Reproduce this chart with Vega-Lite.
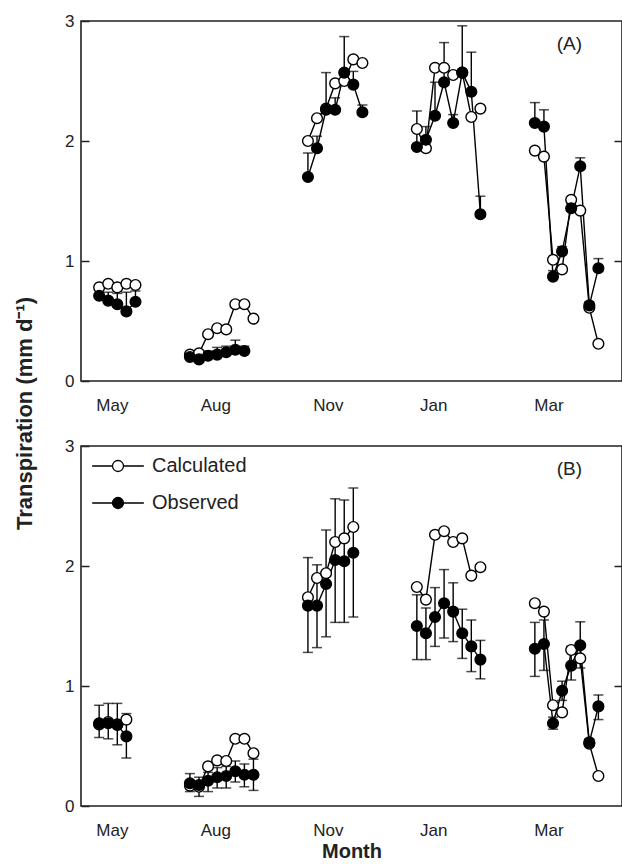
{
  "$schema": "https://vega.github.io/schema/vega-lite/v6.json",
  "padding": {"left": 12, "top": 11, "right": 0, "bottom": 0},
  "background": "white",
  "config": {
    "view": {"stroke": "#222", "strokeWidth": 1.6},
    "font": "Liberation Sans",
    "axis": {"labelFont": "Liberation Sans", "labelColor": "#222", "tickColor": "#222", "titleColor": "#222", "grid": false, "domain": false}
  },
  "datasets": {
    "a": [
      {"month": "May", "x": 2, "series": "Calculated", "value": 0.78},
      {"month": "May", "x": 3, "series": "Calculated", "value": 0.81},
      {"month": "May", "x": 4, "series": "Calculated", "value": 0.78},
      {"month": "May", "x": 5, "series": "Calculated", "value": 0.81},
      {"month": "May", "x": 6, "series": "Calculated", "value": 0.80},
      {"month": "May", "x": 2, "series": "Observed", "value": 0.71, "hi": 0.76},
      {"month": "May", "x": 3, "series": "Observed", "value": 0.67, "hi": 0.74},
      {"month": "May", "x": 4, "series": "Observed", "value": 0.64, "hi": 0.73},
      {"month": "May", "x": 5, "series": "Observed", "value": 0.58, "hi": 0.74},
      {"month": "May", "x": 6, "series": "Observed", "value": 0.66, "hi": 0.75},
      {"month": "Aug", "x": 12, "series": "Calculated", "value": 0.22},
      {"month": "Aug", "x": 13, "series": "Calculated", "value": 0.23},
      {"month": "Aug", "x": 14, "series": "Calculated", "value": 0.39},
      {"month": "Aug", "x": 15, "series": "Calculated", "value": 0.44},
      {"month": "Aug", "x": 16, "series": "Calculated", "value": 0.43},
      {"month": "Aug", "x": 17, "series": "Calculated", "value": 0.64},
      {"month": "Aug", "x": 18, "series": "Calculated", "value": 0.64},
      {"month": "Aug", "x": 19, "series": "Calculated", "value": 0.52},
      {"month": "Aug", "x": 12, "series": "Observed", "value": 0.20, "hi": 0.24},
      {"month": "Aug", "x": 13, "series": "Observed", "value": 0.18, "hi": 0.22},
      {"month": "Aug", "x": 14, "series": "Observed", "value": 0.21, "hi": 0.25},
      {"month": "Aug", "x": 15, "series": "Observed", "value": 0.22, "hi": 0.28},
      {"month": "Aug", "x": 16, "series": "Observed", "value": 0.24, "hi": 0.29},
      {"month": "Aug", "x": 17, "series": "Observed", "value": 0.26, "hi": 0.34},
      {"month": "Aug", "x": 18, "series": "Observed", "value": 0.25, "hi": 0.29},
      {"month": "Nov", "x": 25, "series": "Calculated", "value": 2.00},
      {"month": "Nov", "x": 26, "series": "Calculated", "value": 2.19},
      {"month": "Nov", "x": 27, "series": "Calculated", "value": 2.27},
      {"month": "Nov", "x": 28, "series": "Calculated", "value": 2.48},
      {"month": "Nov", "x": 29, "series": "Calculated", "value": 2.50},
      {"month": "Nov", "x": 30, "series": "Calculated", "value": 2.68},
      {"month": "Nov", "x": 31, "series": "Calculated", "value": 2.65},
      {"month": "Nov", "x": 25, "series": "Observed", "value": 1.70, "hi": 1.90},
      {"month": "Nov", "x": 26, "series": "Observed", "value": 1.94, "hi": 2.04},
      {"month": "Nov", "x": 27, "series": "Observed", "value": 2.26, "hi": 2.57},
      {"month": "Nov", "x": 28, "series": "Observed", "value": 2.26, "hi": 2.36},
      {"month": "Nov", "x": 29, "series": "Observed", "value": 2.57, "hi": 2.87},
      {"month": "Nov", "x": 30, "series": "Observed", "value": 2.47, "hi": 2.58},
      {"month": "Nov", "x": 31, "series": "Observed", "value": 2.24, "hi": 2.30},
      {"month": "Jan", "x": 37, "series": "Calculated", "value": 2.10},
      {"month": "Jan", "x": 38, "series": "Calculated", "value": 1.94},
      {"month": "Jan", "x": 39, "series": "Calculated", "value": 2.61},
      {"month": "Jan", "x": 40, "series": "Calculated", "value": 2.61},
      {"month": "Jan", "x": 41, "series": "Calculated", "value": 2.55},
      {"month": "Jan", "x": 42, "series": "Calculated", "value": 2.57},
      {"month": "Jan", "x": 43, "series": "Calculated", "value": 2.20},
      {"month": "Jan", "x": 44, "series": "Calculated", "value": 2.27},
      {"month": "Jan", "x": 37, "series": "Observed", "value": 1.95, "hi": 2.25},
      {"month": "Jan", "x": 38, "series": "Observed", "value": 2.01, "hi": 2.12},
      {"month": "Jan", "x": 39, "series": "Observed", "value": 2.21, "hi": 2.49},
      {"month": "Jan", "x": 40, "series": "Observed", "value": 2.49, "hi": 2.82},
      {"month": "Jan", "x": 41, "series": "Observed", "value": 2.15, "hi": 2.22},
      {"month": "Jan", "x": 42, "series": "Observed", "value": 2.57, "hi": 2.96},
      {"month": "Jan", "x": 43, "series": "Observed", "value": 2.41, "hi": 2.74},
      {"month": "Jan", "x": 44, "series": "Observed", "value": 1.39, "hi": 1.54},
      {"month": "Mar", "x": 50, "series": "Calculated", "value": 1.92},
      {"month": "Mar", "x": 51, "series": "Calculated", "value": 1.87},
      {"month": "Mar", "x": 52, "series": "Calculated", "value": 1.01},
      {"month": "Mar", "x": 53, "series": "Calculated", "value": 0.93},
      {"month": "Mar", "x": 54, "series": "Calculated", "value": 1.51},
      {"month": "Mar", "x": 55, "series": "Calculated", "value": 1.42},
      {"month": "Mar", "x": 56, "series": "Calculated", "value": 0.61},
      {"month": "Mar", "x": 57, "series": "Calculated", "value": 0.31},
      {"month": "Mar", "x": 50, "series": "Observed", "value": 2.15, "hi": 2.32},
      {"month": "Mar", "x": 51, "series": "Observed", "value": 2.12, "hi": 2.26},
      {"month": "Mar", "x": 52, "series": "Observed", "value": 0.87, "hi": 0.92},
      {"month": "Mar", "x": 53, "series": "Observed", "value": 1.08, "hi": 1.12},
      {"month": "Mar", "x": 54, "series": "Observed", "value": 1.44, "hi": 1.48},
      {"month": "Mar", "x": 55, "series": "Observed", "value": 1.79, "hi": 1.86},
      {"month": "Mar", "x": 56, "series": "Observed", "value": 0.63, "hi": 0.66},
      {"month": "Mar", "x": 57, "series": "Observed", "value": 0.94, "hi": 1.02}
    ],
    "b": [
      {"month": "May", "x": 2, "series": "Calculated", "value": 0.68},
      {"month": "May", "x": 3, "series": "Calculated", "value": 0.70},
      {"month": "May", "x": 4, "series": "Calculated", "value": 0.68},
      {"month": "May", "x": 5, "series": "Calculated", "value": 0.72},
      {"month": "May", "x": 2, "series": "Observed", "value": 0.69, "lo": 0.57, "hi": 0.84},
      {"month": "May", "x": 3, "series": "Observed", "value": 0.69, "lo": 0.56, "hi": 0.855},
      {"month": "May", "x": 4, "series": "Observed", "value": 0.675, "lo": 0.51, "hi": 0.855},
      {"month": "May", "x": 5, "series": "Observed", "value": 0.58, "lo": 0.40, "hi": 0.77},
      {"month": "Aug", "x": 12, "series": "Calculated", "value": 0.17},
      {"month": "Aug", "x": 13, "series": "Calculated", "value": 0.16},
      {"month": "Aug", "x": 14, "series": "Calculated", "value": 0.33},
      {"month": "Aug", "x": 15, "series": "Calculated", "value": 0.38},
      {"month": "Aug", "x": 16, "series": "Calculated", "value": 0.375},
      {"month": "Aug", "x": 17, "series": "Calculated", "value": 0.56},
      {"month": "Aug", "x": 18, "series": "Calculated", "value": 0.56},
      {"month": "Aug", "x": 19, "series": "Calculated", "value": 0.44},
      {"month": "Aug", "x": 12, "series": "Observed", "value": 0.19, "lo": 0.12, "hi": 0.27},
      {"month": "Aug", "x": 13, "series": "Observed", "value": 0.175, "lo": 0.08, "hi": 0.24},
      {"month": "Aug", "x": 14, "series": "Observed", "value": 0.21, "lo": 0.12, "hi": 0.28},
      {"month": "Aug", "x": 15, "series": "Observed", "value": 0.24, "lo": 0.15, "hi": 0.32},
      {"month": "Aug", "x": 16, "series": "Observed", "value": 0.25, "lo": 0.15, "hi": 0.33},
      {"month": "Aug", "x": 17, "series": "Observed", "value": 0.29, "lo": 0.20, "hi": 0.375},
      {"month": "Aug", "x": 18, "series": "Observed", "value": 0.26, "lo": 0.16, "hi": 0.35},
      {"month": "Aug", "x": 19, "series": "Observed", "value": 0.26, "lo": 0.13, "hi": 0.39},
      {"month": "Nov", "x": 25, "series": "Calculated", "value": 1.74},
      {"month": "Nov", "x": 26, "series": "Calculated", "value": 1.90},
      {"month": "Nov", "x": 27, "series": "Calculated", "value": 1.94},
      {"month": "Nov", "x": 28, "series": "Calculated", "value": 2.20},
      {"month": "Nov", "x": 29, "series": "Calculated", "value": 2.23},
      {"month": "Nov", "x": 30, "series": "Calculated", "value": 2.325},
      {"month": "Nov", "x": 25, "series": "Observed", "value": 1.67, "lo": 1.28, "hi": 2.07},
      {"month": "Nov", "x": 26, "series": "Observed", "value": 1.67, "lo": 1.32, "hi": 2.01},
      {"month": "Nov", "x": 27, "series": "Observed", "value": 1.85, "lo": 1.41, "hi": 2.30},
      {"month": "Nov", "x": 28, "series": "Observed", "value": 2.05, "lo": 1.53, "hi": 2.56},
      {"month": "Nov", "x": 29, "series": "Observed", "value": 2.04, "lo": 1.53, "hi": 2.55},
      {"month": "Nov", "x": 30, "series": "Observed", "value": 2.11, "lo": 1.575, "hi": 2.65},
      {"month": "Jan", "x": 37, "series": "Calculated", "value": 1.825},
      {"month": "Jan", "x": 38, "series": "Calculated", "value": 1.72},
      {"month": "Jan", "x": 39, "series": "Calculated", "value": 2.26},
      {"month": "Jan", "x": 40, "series": "Calculated", "value": 2.29},
      {"month": "Jan", "x": 41, "series": "Calculated", "value": 2.20},
      {"month": "Jan", "x": 42, "series": "Calculated", "value": 2.23},
      {"month": "Jan", "x": 43, "series": "Calculated", "value": 1.92},
      {"month": "Jan", "x": 44, "series": "Calculated", "value": 1.99},
      {"month": "Jan", "x": 37, "series": "Observed", "value": 1.50, "lo": 1.22, "hi": 1.76},
      {"month": "Jan", "x": 38, "series": "Observed", "value": 1.44, "lo": 1.22, "hi": 1.65},
      {"month": "Jan", "x": 39, "series": "Observed", "value": 1.575, "lo": 1.33, "hi": 1.82},
      {"month": "Jan", "x": 40, "series": "Observed", "value": 1.69, "lo": 1.40, "hi": 1.97},
      {"month": "Jan", "x": 41, "series": "Observed", "value": 1.62, "lo": 1.37, "hi": 1.86},
      {"month": "Jan", "x": 42, "series": "Observed", "value": 1.44, "lo": 1.23, "hi": 1.64},
      {"month": "Jan", "x": 43, "series": "Observed", "value": 1.33, "lo": 1.12, "hi": 1.55},
      {"month": "Jan", "x": 44, "series": "Observed", "value": 1.22, "lo": 1.06, "hi": 1.38},
      {"month": "Mar", "x": 50, "series": "Calculated", "value": 1.69},
      {"month": "Mar", "x": 51, "series": "Calculated", "value": 1.62},
      {"month": "Mar", "x": 52, "series": "Calculated", "value": 0.84},
      {"month": "Mar", "x": 53, "series": "Calculated", "value": 0.78},
      {"month": "Mar", "x": 54, "series": "Calculated", "value": 1.30},
      {"month": "Mar", "x": 55, "series": "Calculated", "value": 1.23},
      {"month": "Mar", "x": 56, "series": "Calculated", "value": 0.52},
      {"month": "Mar", "x": 57, "series": "Calculated", "value": 0.25},
      {"month": "Mar", "x": 50, "series": "Observed", "value": 1.31, "lo": 1.08, "hi": 1.53},
      {"month": "Mar", "x": 51, "series": "Observed", "value": 1.35, "lo": 1.13, "hi": 1.55},
      {"month": "Mar", "x": 52, "series": "Observed", "value": 0.69, "lo": 0.64, "hi": 0.74},
      {"month": "Mar", "x": 53, "series": "Observed", "value": 0.96, "lo": 0.88, "hi": 1.04},
      {"month": "Mar", "x": 54, "series": "Observed", "value": 1.17, "lo": 1.05, "hi": 1.33},
      {"month": "Mar", "x": 55, "series": "Observed", "value": 1.34, "lo": 1.15, "hi": 1.535},
      {"month": "Mar", "x": 56, "series": "Observed", "value": 0.53, "lo": 0.50, "hi": 0.56},
      {"month": "Mar", "x": 57, "series": "Observed", "value": 0.83, "lo": 0.72, "hi": 0.925}
    ]
  },
  "vconcat": [
    {
      "width": 541,
      "height": 360,
      "data": {"name": "a"},
      "title": {"text": "(A)", "orient": "top", "anchor": "end", "frame": "group", "offset": -51, "dx": -40, "fontSize": 19, "fontWeight": "normal", "font": "Liberation Sans", "color": "#222", "baseline": "middle"},
      "resolve": {"axis": {"y": "independent"}},
      "layer": [
        {
          "mark": {"type": "line", "color": "black", "strokeWidth": 1.4},
          "encoding": {
            "x": {"field": "x", "type": "quantitative", "scale": {"domain": [0, 59.6], "nice": false, "zero": false},
                  "axis": {"values": [3.4, 14.8, 27.2, 38.8, 51.5], "labelExpr": "datum.value < 8 ? 'May' : datum.value < 20 ? 'Aug' : datum.value < 32 ? 'Nov' : datum.value < 45 ? 'Jan' : 'Mar'", "ticks": false, "labelPadding": 16, "labelFontSize": 17, "title": null, "labelFlush": false}},
            "y": {"field": "value", "type": "quantitative", "scale": {"domain": [0, 3], "nice": false},
                  "axis": {"orient": "left", "values": [0, 1, 2, 3], "tickSize": -8, "tickWidth": 1.5, "labelPadding": 15, "labelFontSize": 17, "labelFlush": false, "labelOverlap": false,
                           "title": "Transpiration (mm d⁻¹)", "titleFont": "Liberation Sans", "titleFontSize": 22, "titleFontWeight": "bold", "titleX": -57, "titleY": 392, "titleAngle": -90, "titleAlign": "center", "titleBaseline": "middle"}},
            "detail": [{"field": "series"}, {"field": "month"}]
          }
        },
        {
          "transform": [{"filter": "datum.hi != null"}],
          "mark": {"type": "rule", "color": "black", "strokeWidth": 1.4},
          "encoding": {
            "x": {"field": "x", "type": "quantitative"},
            "y": {"field": "value", "type": "quantitative", "axis": null},
            "y2": {"field": "hi"}
          }
        },
        {
          "transform": [{"filter": "datum.hi != null"}],
          "mark": {"type": "tick", "orient": "horizontal", "color": "black", "size": 10, "thickness": 1.5},
          "encoding": {
            "x": {"field": "x", "type": "quantitative"},
            "y": {"field": "hi", "type": "quantitative", "axis": null}
          }
        },
        {
          "transform": [{"filter": "datum.series == 'Calculated'"}],
          "mark": {"type": "circle", "size": 115, "stroke": "black", "strokeWidth": 1.4, "opacity": 1},
          "encoding": {
            "x": {"field": "x", "type": "quantitative"},
            "y": {"field": "value", "type": "quantitative", "axis": {"orient": "right", "values": [1, 2], "tickSize": -8, "tickWidth": 1.5, "labels": false, "title": null}},
            "fill": {"field": "series", "type": "nominal", "scale": {"domain": ["Calculated", "Observed"], "range": ["white", "black"]}, "legend": null}
          }
        },
        {
          "transform": [{"filter": "datum.series == 'Observed'"}],
          "mark": {"type": "circle", "size": 115, "stroke": "black", "strokeWidth": 1.4, "opacity": 1},
          "encoding": {
            "x": {"field": "x", "type": "quantitative"},
            "y": {"field": "value", "type": "quantitative", "axis": null},
            "fill": {"field": "series", "type": "nominal", "scale": {"domain": ["Calculated", "Observed"], "range": ["white", "black"]}, "legend": null}
          }
        }
      ]
    },
    {
      "width": 541,
      "height": 360,
      "data": {"name": "b"},
      "title": {"text": "(B)", "orient": "top", "anchor": "end", "frame": "group", "offset": -51, "dx": -40, "fontSize": 19, "fontWeight": "normal", "font": "Liberation Sans", "color": "#222", "baseline": "middle"},
      "resolve": {"axis": {"y": "independent"}},
      "layer": [
        {
          "mark": {"type": "line", "color": "black", "strokeWidth": 1.4},
          "encoding": {
            "x": {"field": "x", "type": "quantitative", "scale": {"domain": [0, 59.6], "nice": false, "zero": false},
                  "axis": {"values": [3.4, 14.8, 27.2, 38.8, 51.5], "labelExpr": "datum.value < 8 ? 'May' : datum.value < 20 ? 'Aug' : datum.value < 32 ? 'Nov' : datum.value < 45 ? 'Jan' : 'Mar'", "ticks": false, "labelPadding": 16, "labelFontSize": 17, "labelFlush": false,
                           "title": "Month", "titleFontSize": 20, "titleFontWeight": "bold", "titlePadding": 3}},
            "y": {"field": "value", "type": "quantitative", "scale": {"domain": [0, 3], "nice": false},
                  "axis": {"orient": "left", "values": [0, 1, 2, 3], "tickSize": -8, "tickWidth": 1.5, "labelPadding": 15, "labelFontSize": 17, "labelFlush": false, "labelOverlap": false, "title": null}},
            "detail": [{"field": "series"}, {"field": "month"}]
          }
        },
        {
          "transform": [{"filter": "datum.hi != null"}],
          "mark": {"type": "rule", "color": "black", "strokeWidth": 1.4},
          "encoding": {
            "x": {"field": "x", "type": "quantitative"},
            "y": {"field": "lo", "type": "quantitative", "axis": null},
            "y2": {"field": "hi"}
          }
        },
        {
          "transform": [{"filter": "datum.hi != null"}],
          "mark": {"type": "tick", "orient": "horizontal", "color": "black", "size": 10, "thickness": 1.5},
          "encoding": {
            "x": {"field": "x", "type": "quantitative"},
            "y": {"field": "hi", "type": "quantitative", "axis": null}
          }
        },
        {
          "transform": [{"filter": "datum.lo != null"}],
          "mark": {"type": "tick", "orient": "horizontal", "color": "black", "size": 10, "thickness": 1.5},
          "encoding": {
            "x": {"field": "x", "type": "quantitative"},
            "y": {"field": "lo", "type": "quantitative", "axis": null}
          }
        },
        {
          "transform": [{"filter": "datum.series == 'Calculated'"}],
          "mark": {"type": "circle", "size": 115, "stroke": "black", "strokeWidth": 1.4, "opacity": 1},
          "encoding": {
            "x": {"field": "x", "type": "quantitative"},
            "y": {"field": "value", "type": "quantitative", "axis": {"orient": "right", "values": [1, 2], "tickSize": -8, "tickWidth": 1.5, "labels": false, "title": null}},
            "fill": {"field": "series", "type": "nominal", "scale": {"domain": ["Calculated", "Observed"], "range": ["white", "black"]},
                     "legend": {"orient": "none", "legendX": 27, "legendY": 10, "title": null, "padding": 0,
                                "symbolType": "M-4.7,0H-1M1,0H4.7M1,0A1,1 0 1,1 -1,0A1,1 0 1,1 1,0Z", "symbolSize": 121,
                                "symbolStrokeColor": "black", "symbolStrokeWidth": 1.3, "symbolOpacity": 1,
                                "labelFontSize": 20, "labelFont": "Liberation Sans", "labelColor": "#222", "labelOffset": 24, "rowPadding": 17}}
          }
        },
        {
          "transform": [{"filter": "datum.series == 'Observed'"}],
          "mark": {"type": "circle", "size": 115, "stroke": "black", "strokeWidth": 1.4, "opacity": 1},
          "encoding": {
            "x": {"field": "x", "type": "quantitative"},
            "y": {"field": "value", "type": "quantitative", "axis": null},
            "fill": {"field": "series", "type": "nominal", "scale": {"domain": ["Calculated", "Observed"], "range": ["white", "black"]}}
          }
        }
      ]
    }
  ],
  "bounds": "flush",
  "spacing": 65,
  "resolve": {"scale": {"fill": "independent"}, "legend": {"fill": "independent"}}
}
